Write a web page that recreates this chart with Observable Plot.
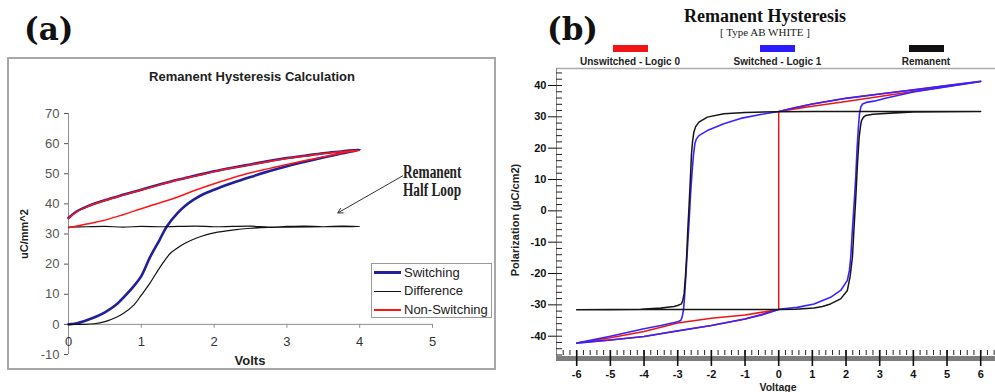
<!DOCTYPE html>
<html><head><meta charset="utf-8">
<script src="https://cdn.jsdelivr.net/npm/d3@7"></script>
<script src="https://cdn.jsdelivr.net/npm/@observablehq/plot@0.6"></script>
<style>
html,body{margin:0;padding:0;background:#fff;}
body{width:995px;height:392px;overflow:hidden;position:relative;font-family:"Liberation Sans",Arial,sans-serif;color:#111;}
.abs{position:absolute;white-space:nowrap;line-height:1;}
.c{transform:translate(-50%,-50%);}
.rot{transform:translate(-50%,-50%) rotate(-90deg);}
.plotwrap{position:absolute;}
.plotwrap svg{max-width:none !important;overflow:visible;}
</style></head><body>
<div id="root"></div>
<script>
// ---------- Panel (a): Remanent Hysteresis Calculation ----------
const aXTicks = [0, 1, 2, 3, 4, 5];
const aYTicks = [-10, 0, 10, 20, 30, 40, 50, 60, 70];
const aSeries = ["Switching", "Difference", "Non-Switching"];
// Switching: rising branch 0→4 V, then return 4→0 V
const aSwitchV = [0,0.1,0.25,0.4,0.5,0.65,0.75,0.9,1.0,1.12,1.25,1.35,1.5,1.6,1.72,1.85,2.0,2.25,2.5,2.75,3.0,3.25,3.5,3.75,4.0, 3.75,3.5,3.25,3.0,2.75,2.5,2.25,2.0,1.75,1.5,1.25,1.0,0.75,0.5,0.25,0.1,0];
const aSwitchP = [0,0.3,1.4,2.8,4.0,6.4,8.8,12.8,16.0,22.3,28.0,32.5,37.0,39.3,41.4,43.2,44.7,46.9,48.9,50.8,52.5,54.0,55.4,56.7,58.0, 57.4,56.8,56.0,55.2,54.2,53.1,52.0,50.8,49.4,48.0,46.4,44.7,43.0,41.2,39.1,37.3,35.3];
// Non-switching
const aNonV = [0,0.25,0.5,0.75,1,1.25,1.5,1.75,2,2.25,2.5,2.75,3,3.25,3.5,3.75,4, 3.75,3.5,3.25,3.0,2.75,2.5,2.25,2.0,1.75,1.5,1.25,1.0,0.75,0.5,0.25,0.1,0];
const aNonP = [32.1,33.3,34.6,36.4,38.4,40.3,42.3,44.6,46.7,48.6,50.3,51.7,53.1,54.4,55.6,56.8,57.8, 57.3,56.7,55.9,55.1,54.1,53.0,51.9,50.7,49.3,47.9,46.3,44.6,42.9,41.1,39.0,37.2,35.2];
// Difference
const aDiffV = [0,0.2,0.35,0.5,0.65,0.75,0.9,1.0,1.1,1.2,1.3,1.4,1.5,1.6,1.75,1.9,2.0,2.25,2.5,2.75,3.0,3.5,4.0, 3.75,3.5,3.25,3.0,2.75,2.5,2.25,2.0,1.75,1.5,1.25,1.0,0.75,0.5,0.25,0];
const aDiffP = [0,0,0.2,0.9,2.3,3.6,6.5,9.7,13.0,16.8,20.5,23.6,25.4,26.9,28.6,29.8,30.4,31.3,31.9,32.2,32.3,32.4,32.5, 32.6,32.4,32.6,32.5,32.3,32.6,32.5,32.4,32.6,32.5,32.4,32.5,32.3,32.5,32.4,32.3];
// annotation arrow (data coordinates)
const aArrowFrom = [4.59, 49.3];
const aArrowTo = [3.70, 37.0];
const aNote = ["Remanent", "Half Loop"];

// ---------- Panel (b): Remanent Hysteresis [Type AB WHITE] ----------
const bXTicks = [-6,-5,-4,-3,-2,-1,0,1,2,3,4,5,6];
const bYTicks = [-40,-30,-20,-10,0,10,20,30,40];
const bXDomain = [-6.6, 6.6];
const bYDomain = [-46.16, 45.42];
const bSeries = ["Unswitched - Logic 0", "Switched - Logic 1", "Remanent"];
const bRemV = [-6,-5,-4,-2,0,0.5,1.05,1.3,1.54,1.84,2.04,2.12,2.19,2.24,2.29,2.34,2.39,2.43,2.46,2.52,2.58,2.8,3.03,4,5,6, 5,3,1,0,-1,-1.63,-2.12,-2.37,-2.47,-2.52,-2.56,-2.59,-2.62,-2.66,-2.7,-2.73,-2.77,-2.81,-2.85,-2.89,-3.0,-3.11,-3.5,-4.1,-5,-6];
const bRemP = [-31.6,-31.6,-31.5,-31.5,-31.5,-31.4,-31.0,-30.5,-29.7,-28.1,-25.4,-21,-14.8,-5,4.3,15,23.5,27,28.8,29.9,30.4,30.8,31.0,31.5,31.6,31.7, 31.7,31.7,31.7,31.6,31.4,31.0,29.9,28.3,26.8,25.1,22,18.2,11,2.2,-6,-13.7,-21,-26.5,-28.6,-29.7,-30.2,-30.5,-31.0,-31.4,-31.5,-31.6];
const bSwV = [0,0.55,1.05,1.54,1.84,2.04,2.1,2.14,2.19,2.24,2.29,2.33,2.37,2.4,2.44,2.49,2.6,2.83,3.2,4,5,6, 5,4,3,2,1,0.5,0,-0.5,-1.13,-1.63,-2.12,-2.37,-2.45,-2.49,-2.53,-2.57,-2.62,-2.66,-2.71,-2.76,-2.8,-2.83,-2.87,-2.91,-3.0,-3.5,-4,-5,-6, -5,-4,-3,-2,-1,-0.5,0];
const bSwP = [-31.4,-30.8,-29.7,-27.6,-25.4,-22.2,-19,-14.8,-6,2.2,11,20.3,27,31,33.2,34.1,34.6,35.0,36.0,37.9,39.6,41.3, 40.0,38.6,37.3,35.9,34.1,33.0,31.7,30.8,29.5,27.8,25.6,24.0,22.8,21.4,18,12.9,5,-3.1,-12,-21.2,-28,-31.8,-34,-35.0,-35.4,-36.6,-37.6,-40.0,-42.2, -41.2,-40.1,-38.3,-36.6,-34.5,-33.2,-31.5];
const bUnV = [0,1,2,3,4,5,6,5,4,3,2,1,0,0,-1,-2,-3,-4,-5,-6,-5,-4,-3,-2,-1,0];
const bUnP = [31.7,33.4,34.9,36.5,38.1,39.7,41.3,40.0,38.6,37.3,35.9,34.1,31.7,-31.5,-33.2,-34.3,-35.8,-38.5,-40.5,-42.2,-41.2,-40.1,-38.3,-36.6,-34.5,-31.5];

const rows = (V, P) => V.map((v, i) => ({v, p: P[i]}));
const root = document.getElementById("root");
function el(html) { const d = document.createElement("div"); d.innerHTML = html; while (d.firstChild) root.appendChild(d.firstChild); }

// ----- Panel (a) plot -----
const plotA = Plot.plot({
  width: 489, height: 313,
  marginLeft: 61, marginRight: 64, marginTop: 56, marginBottom: 16,
  style: {background: "transparent", fontFamily: "Liberation Sans, Arial, sans-serif", fontSize: "13px", color: "#555", overflow: "visible"},
  x: {domain: [0, 5], axis: null},
  y: {domain: [-10, 70], ticks: aYTicks, tickSize: 4, tickPadding: 5, label: null, tickFormat: d => String(d)},
  marks: [
    Plot.ruleX([0], {stroke: "#8f8f8f"}),
    Plot.ruleY([0], {stroke: "#8f8f8f"}),
    Plot.ruleX(aXTicks, {x: d => d, y1: 0, y2: -1.3, stroke: "#8f8f8f"}),
    Plot.text(aXTicks, {x: d => d, y: 0, dy: 17, text: d => String(d), fill: "#333", fontSize: 13}),
    Plot.line(rows(aSwitchV, aSwitchP), {x: "v", y: "p", stroke: "#20209a", strokeWidth: 2.6, curve: "catmull-rom"}),
    Plot.line(rows(aDiffV, aDiffP), {x: "v", y: "p", stroke: "#111", strokeWidth: 1.2, curve: "catmull-rom"}),
    Plot.line(rows(aNonV, aNonP), {x: "v", y: "p", stroke: "#ff1414", strokeWidth: 1.5, curve: "catmull-rom"}),
    Plot.arrow([{x1: aArrowFrom[0], y1: aArrowFrom[1], x2: aArrowTo[0], y2: aArrowTo[1]}],
      {x1: "x1", y1: "y1", x2: "x2", y2: "y2", stroke: "#333", strokeWidth: 1, headLength: 8})
  ]
});
const wa = document.createElement("div");
wa.className = "plotwrap"; wa.style.left = "7px"; wa.style.top = "57px";
wa.appendChild(plotA);
root.appendChild(wa);

// frame + texts for (a)
el(`<div class="abs" style="left:7px;top:57px;width:489px;height:313px;box-sizing:border-box;border:2px solid #a8a8a8;"></div>`);
el(`<div class="abs" style="left:24px;top:14px;font-family:'DejaVu Serif',serif;font-weight:bold;font-size:31px;">(a)</div>`);
el(`<div class="abs c" style="left:252px;top:76px;font-weight:bold;font-size:13px;color:#222;">Remanent Hysteresis Calculation</div>`);
el(`<div class="abs c" style="left:250px;top:360px;font-weight:bold;font-size:13px;color:#222;">Volts</div>`);
el(`<div class="abs rot" style="left:24px;top:234px;font-weight:bold;font-size:11px;color:#222;">uC/mm^2</div>`);
el(`<div class="abs" style="left:403px;top:163px;font-family:'Liberation Serif',serif;font-weight:bold;font-size:18px;line-height:18.4px;transform:scaleX(0.74);transform-origin:0 0;color:#222;">${aNote[0]}<br>${aNote[1]}</div>`);
// legend (a)
const aLegColors = ["#20209a", "#111", "#ff1414"];
const aLegWidths = [3, 1.5, 1.5];
let legA = `<div class="abs" style="left:371px;top:263px;width:121px;height:55px;box-sizing:border-box;border:1.5px solid #9a9a9a;background:#fff;"></div>`;
aSeries.forEach((s, i) => {
  const cy = 272.7 + i * 18.7;
  legA += `<div class="abs" style="left:374px;top:${cy - aLegWidths[i]/2}px;width:27px;height:${aLegWidths[i]}px;background:${aLegColors[i]};"></div>`;
  legA += `<div class="abs" style="left:404px;top:${cy - 7}px;font-size:13px;line-height:14px;color:#222;">${s}</div>`;
});
el(legA);

// ----- Panel (b) plot -----
const bXMinor = d3.range(-32, 33).map(i => i / 5);
const bYMinor = d3.range(-23, 23).map(i => i * 2);
const plotB = Plot.plot({
  width: 500, height: 331,
  marginLeft: 51, marginRight: 4.6, marginTop: 7, marginBottom: 37,
  style: {background: "transparent", fontFamily: "Liberation Sans, Arial, sans-serif", fontSize: "11px", fontWeight: "bold", color: "#111", overflow: "visible"},
  x: {domain: bXDomain, ticks: bXTicks, tickSize: 0, tickPadding: 15, tickFormat: d => String(d), label: null},
  y: {domain: bYDomain, ticks: bYTicks, tickSize: 8, tickPadding: 2, tickFormat: d => String(d), label: null},
  marks: [
    Plot.ruleY([bYDomain[1]], {stroke: "#aaa", strokeWidth: 1.5}),
    Plot.ruleX([bXDomain[0]], {stroke: "#888"}),
    Plot.ruleY(bYMinor, {y: d => d, x1: bXDomain[0], x2: bXDomain[0] + 0.18, stroke: "#222"}),
    Plot.ruleY([bYDomain[0]], {stroke: "#7d7d7d", strokeWidth: 5, dy: 3}),
    Plot.ruleX(bXMinor, {x: d => d, y1: bYDomain[0], y2: bYDomain[0] + 1.6, stroke: "#222"}),
    Plot.ruleX(bXTicks, {x: d => d, y1: bYDomain[0] + 1.6, y2: bYDomain[0] - 3.5, stroke: "#111", strokeWidth: 1.6}),
    Plot.line(rows(bUnV, bUnP), {x: "v", y: "p", stroke: "#f01414", strokeWidth: 1.5}),
    Plot.line(rows(bSwV, bSwP), {x: "v", y: "p", stroke: "#3a22ff", strokeWidth: 1.6}),
    Plot.line(rows(bRemV, bRemP), {x: "v", y: "p", stroke: "#151515", strokeWidth: 1.5})
  ]
});
const wb = document.createElement("div");
wb.className = "plotwrap"; wb.style.left = "505px"; wb.style.top = "61px";
wb.appendChild(plotB);
root.appendChild(wb);

el(`<div class="abs" style="left:547px;top:14px;font-family:'DejaVu Serif',serif;font-weight:bold;font-size:31px;">(b)</div>`);
el(`<div class="abs c" style="left:765px;top:16px;font-family:'Liberation Serif',serif;font-weight:bold;font-size:18px;color:#111;">Remanent Hysteresis</div>`);
el(`<div class="abs c" style="left:765px;top:31.5px;font-family:'Liberation Serif',serif;font-size:11px;color:#222;">[ Type AB WHITE ]</div>`);
const bLegColors = ["#f01414", "#2a1cff", "#111"];
const bLegCx = [630, 777.5, 926];
let legB = "";
bSeries.forEach((s, i) => {
  legB += `<div class="abs" style="left:${bLegCx[i] - 17.5}px;top:45px;width:35px;height:7px;background:${bLegColors[i]};"></div>`;
  legB += `<div class="abs c" style="left:${bLegCx[i]}px;top:62px;font-weight:bold;font-size:10px;color:#222;">${s}</div>`;
});
el(legB);
el(`<div class="abs rot" style="left:515px;top:220px;font-weight:bold;font-size:11px;color:#222;">Polarization (μC/cm2)</div>`);
el(`<div class="abs" style="left:778px;top:382px;transform:translateX(-50%);font-weight:bold;font-size:10.5px;color:#222;">Voltage</div>`);
</script>
</body></html>
